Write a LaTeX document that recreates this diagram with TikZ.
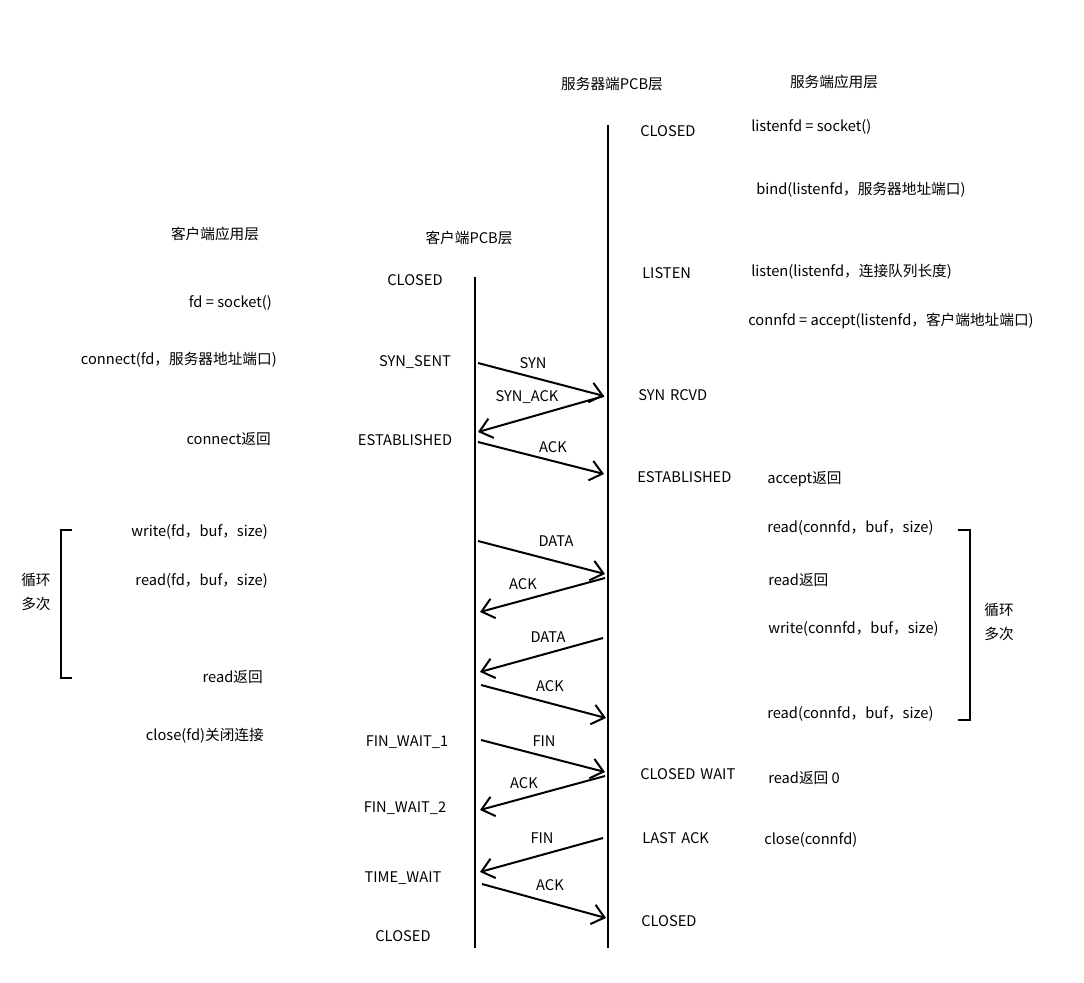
\documentclass[tikz,border=0pt]{standalone}
\usepackage{fontspec}
\setmainfont{Noto Sans CJK SC}
\usetikzlibrary{arrows.meta}
\begin{document}
\begin{tikzpicture}[x=0.75pt,y=-0.75pt,
  lbl/.style={inner sep=0pt,font=\fontsize{11}{13}\selectfont},
  lifeline/.style={line width=1.5pt},
  msg/.style={line width=1.5pt,-{Straight Barb[length=9pt,width=15pt,line width=1.5pt]}},
  bracket/.style={line width=1.5pt}]
\useasboundingbox (0,0) rectangle (1084,982);
% headers
\node[lbl] (hsp) at (612,84) {服务器端PCB层};
\node[lbl] (hsa) at (834,82) {服务端应用层};
\node[lbl] (hca) at (215,234) {客户端应用层};
\node[lbl] (hcp) at (469,238) {客户端PCB层};
% lifelines
\coordinate (ctop) at (475,277);
\coordinate (cbot) at (475,948);
\coordinate (stop) at (608,125);
\coordinate (sbot) at (608,948);
\draw[lifeline] (ctop) -- (cbot);
\draw[lifeline] (stop) -- (sbot);
% client states
\node[lbl] (cs1) at (415,280) {CLOSED};
\node[lbl] (cs2) at (415,362) {SYN\_SENT};
\node[lbl] (cs3) at (405,440) {ESTABLISHED};
\node[lbl] (cs4) at (407,742) {FIN\_WAIT\_1};
\node[lbl] (cs5) at (405,808) {FIN\_WAIT\_2};
\node[lbl] (cs6) at (403,878) {TIME\_WAIT};
\node[lbl] (cs7) at (403,936) {CLOSED};
% server states
\node[lbl,anchor=west] (ss1) at (640,131) {CLOSED};
\node[lbl,anchor=west] (ss2) at (642,273) {LISTEN};
\node[lbl,anchor=west] (ss3) at (638,395) {SYN\,\,RCVD};
\node[lbl,anchor=west] (ss4) at (637,477) {ESTABLISHED};
\node[lbl,anchor=west] (ss5) at (640,774) {CLOSED\,\,WAIT};
\node[lbl,anchor=west] (ss6) at (642,838) {LAST\,\,ACK};
\node[lbl,anchor=west] (ss7) at (641,921) {CLOSED};
% client app
\node[lbl,anchor=east] (ca1) at (272,303) {fd = socket()};
\node[lbl,anchor=east] (ca2) at (277,360) {connect(fd，服务器地址端口)};
\node[lbl,anchor=east] (ca3) at (271,439) {connect返回};
\node[lbl,anchor=east] (ca4) at (268,532) {write(fd，buf，size)};
\node[lbl,anchor=east] (ca5) at (268,581) {read(fd，buf，size)};
\node[lbl,anchor=east] (ca6) at (263,677) {read返回};
\node[lbl,anchor=east] (ca7) at (264,736) {close(fd)关闭连接};
% server app
\node[lbl,anchor=west] (sa1) at (751,127) {listenfd = socket()};
\node[lbl,anchor=west] (sa2) at (756,190) {bind(listenfd，服务器地址端口)};
\node[lbl,anchor=west] (sa3) at (751,272) {listen(listenfd，连接队列长度)};
\node[lbl,anchor=west] (sa4) at (748,321) {connfd = accept(listenfd，客户端地址端口)};
\node[lbl,anchor=west] (sa5) at (767,479) {accept返回};
\node[lbl,anchor=west] (sa6) at (767,528) {read(connfd，buf，size)};
\node[lbl,anchor=west] (sa7) at (768,580) {read返回};
\node[lbl,anchor=west] (sa8) at (768,629) {write(connfd，buf，size)};
\node[lbl,anchor=west] (sa9) at (767,714) {read(connfd，buf，size)};
\node[lbl,anchor=west] (sa10) at (768,778) {read返回 0};
\node[lbl,anchor=west] (sa11) at (764,840) {close(connfd)};
% loop brackets
\coordinate (lb1) at (72,530);
\coordinate (lb2) at (61,530);
\coordinate (lb3) at (61,678);
\coordinate (lb4) at (72,678);
\draw[bracket] (lb1) -- (lb2) -- (lb3) -- (lb4);
\node[lbl] (ll1) at (36,580) {循环};
\node[lbl] (ll2) at (36,604) {多次};
\coordinate (rb1) at (958,530);
\coordinate (rb2) at (970,530);
\coordinate (rb3) at (970,720);
\coordinate (rb4) at (958,720);
\draw[bracket] (rb1) -- (rb2) -- (rb3) -- (rb4);
\node[lbl] (rl1) at (999,610) {循环};
\node[lbl] (rl2) at (999,634) {多次};
% message endpoints
\coordinate (m1a) at (478,363); \coordinate (m1b) at (604,396);
\coordinate (m2a) at (604,396); \coordinate (m2b) at (478,432);
\coordinate (m3a) at (478,442); \coordinate (m3b) at (604,474);
\coordinate (m4a) at (478,541); \coordinate (m4b) at (605,574);
\coordinate (m5a) at (605,578); \coordinate (m5b) at (480,612);
\coordinate (m6a) at (603,638); \coordinate (m6b) at (480,672);
\coordinate (m7a) at (481,685); \coordinate (m7b) at (606,718);
\coordinate (m8a) at (481,740); \coordinate (m8b) at (605,772);
\coordinate (m9a) at (605,776); \coordinate (m9b) at (480,810);
\coordinate (m10a) at (603,838); \coordinate (m10b) at (480,872);
\coordinate (m11a) at (482,884); \coordinate (m11b) at (606,918);
\draw[msg] (m1a) -- (m1b);
\draw[msg] (m2a) -- (m2b);
\draw[msg] (m3a) -- (m3b);
\draw[msg] (m4a) -- (m4b);
\draw[msg] (m5a) -- (m5b);
\draw[msg] (m6a) -- (m6b);
\draw[msg] (m7a) -- (m7b);
\draw[msg] (m8a) -- (m8b);
\draw[msg] (m9a) -- (m9b);
\draw[msg] (m10a) -- (m10b);
\draw[msg] (m11a) -- (m11b);
% message labels
\node[lbl] (t1) at (533,363) {SYN};
\node[lbl] (t2) at (527,397) {SYN\_ACK};
\node[lbl] (t3) at (553,447) {ACK};
\node[lbl] (t4) at (556,541) {DATA};
\node[lbl] (t5) at (523,584) {ACK};
\node[lbl] (t6) at (548,637) {DATA};
\node[lbl] (t7) at (550,686) {ACK};
\node[lbl] (t8) at (544,741) {FIN};
\node[lbl] (t9) at (524,783) {ACK};
\node[lbl] (t10) at (542,838) {FIN};
\node[lbl] (t11) at (550,885) {ACK};
\end{tikzpicture}
\end{document}
